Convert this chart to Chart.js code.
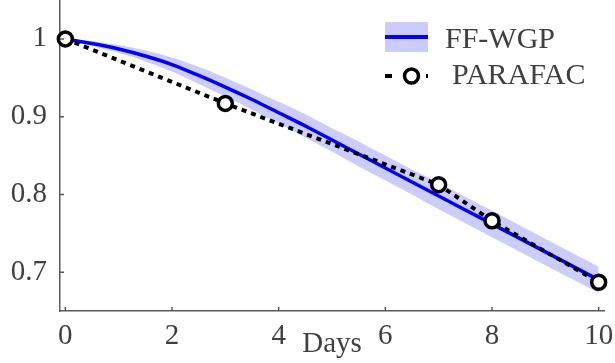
<!DOCTYPE html>
<html>
<head>
<meta charset="utf-8">
<script src="https://cdn.jsdelivr.net/npm/chart.js@4.4.1/dist/chart.umd.min.js"></script>
<style>
 html, body { margin: 0; padding: 0; background: #fff; }
 #wrap { width: 615px; height: 363px; }
</style>
</head>
<body>
<div id="wrap"><canvas id="chart" width="615" height="363"></canvas></div>
<script>
// FF-WGP mean and band
const days = [0, 0.5, 1, 1.5, 2, 2.5, 3, 3.5, 4, 4.5, 5, 5.5, 6, 6.5, 7, 7.5, 8, 8.5, 9, 9.5, 10];
const wgpMean  = [1.000, 0.994, 0.987, 0.978, 0.967, 0.953, 0.938, 0.922, 0.905, 0.888, 0.870, 0.852, 0.834, 0.816, 0.798, 0.780, 0.762, 0.744, 0.726, 0.708, 0.690];
const wgpUpper = [1.000, 0.997, 0.992, 0.985, 0.976, 0.964, 0.950, 0.935, 0.919, 0.903, 0.885, 0.868, 0.850, 0.832, 0.815, 0.797, 0.779, 0.761, 0.743, 0.725, 0.707];
const wgpLower = [1.000, 0.991, 0.982, 0.971, 0.958, 0.942, 0.926, 0.909, 0.891, 0.873, 0.855, 0.836, 0.818, 0.800, 0.781, 0.763, 0.745, 0.727, 0.709, 0.691, 0.673];

// PARAFAC points
const parafacDays = [0, 3, 7, 8, 10];
const parafacVals = [1.000, 0.917, 0.8125, 0.766, 0.687];

const xTicks = [0, 2, 4, 6, 8, 10];
const yTicks = [0.7, 0.8, 0.9, 1];

const serif = "'Liberation Serif', 'DejaVu Serif', serif";
const axisGray = '#5a5a5a';
const textGray = '#404040';
const bandFill = 'rgba(0, 0, 255, 0.2)';

const toXY = (xs, ys) => xs.map((x, i) => ({ x: x, y: ys[i] }));

// inward tick marks, like the original plot
const innerTicks = {
 id: 'innerTicks',
 afterDraw(chart) {
  const ctx = chart.ctx;
  const x = chart.scales.x, y = chart.scales.y;
  const len = 4;
  ctx.save();
  ctx.strokeStyle = axisGray;
  ctx.lineWidth = 1.5;
  ctx.beginPath();
  xTicks.forEach(v => {
   const px = x.getPixelForValue(v);
   ctx.moveTo(px, y.bottom);
   ctx.lineTo(px, y.bottom - len);
  });
  yTicks.forEach(v => {
   const py = y.getPixelForValue(v);
   ctx.moveTo(x.left, py);
   ctx.lineTo(x.left + len, py);
  });
  ctx.stroke();
  ctx.restore();
 }
};

// legend sits inside the axes, top right
const insideLegend = {
 id: 'insideLegend',
 afterDraw(chart) {
  const ctx = chart.ctx;
  ctx.save();
  // FF-WGP: band swatch with line
  ctx.fillStyle = bandFill;
  ctx.fillRect(385, 22, 43, 30);
  ctx.strokeStyle = '#0000ff';
  ctx.lineWidth = 4;
  ctx.beginPath();
  ctx.moveTo(385, 37);
  ctx.lineTo(428, 37);
  ctx.stroke();

  // PARAFAC: dashes and circle
  ctx.strokeStyle = '#000';
  ctx.lineWidth = 4;
  ctx.beginPath();
  ctx.moveTo(385, 76);
  ctx.lineTo(392, 76);
  ctx.moveTo(426, 76);
  ctx.lineTo(428, 76);
  ctx.stroke();
  ctx.beginPath();
  ctx.arc(411.5, 76, 7, 0, Math.PI * 2);
  ctx.fillStyle = '#fff';
  ctx.fill();
  ctx.lineWidth = 3.5;
  ctx.stroke();

  ctx.fillStyle = textGray;
  ctx.font = '30px ' + serif;
  ctx.textBaseline = 'middle';
  ctx.textAlign = 'left';
  ctx.fillText('FF-WGP', 445, 40);
  ctx.fillText('PARAFAC', 452, 76);
  ctx.restore();
 }
};

const ctx = document.getElementById('chart').getContext('2d');
new Chart(ctx, {
 type: 'line',
 data: {
  datasets: [
   {
    label: 'PARAFAC',
    data: toXY(parafacDays, parafacVals),
    borderColor: '#000',
    borderWidth: 4,
    borderDash: [5, 5],
    pointRadius: 7,
    pointBorderWidth: 3.5,
    pointBackgroundColor: '#fff',
    pointBorderColor: '#000',
    tension: 0,
    clip: false,
    order: 0
   },
   {
    label: 'FF-WGP',
    data: toXY(days, wgpMean),
    borderColor: '#0000ff',
    borderWidth: 3.5,
    pointRadius: 0,
    cubicInterpolationMode: 'monotone',
    order: 1
   },
   {
    label: 'upper',
    data: toXY(days, wgpUpper),
    borderWidth: 0,
    pointRadius: 0,
    backgroundColor: bandFill,
    fill: '+1',
    cubicInterpolationMode: 'monotone',
    order: 2
   },
   {
    label: 'lower',
    data: toXY(days, wgpLower),
    borderWidth: 0,
    pointRadius: 0,
    fill: false,
    cubicInterpolationMode: 'monotone',
    order: 2
   }
  ]
 },
 options: {
  responsive: false,
  animation: false,
  devicePixelRatio: 1,
  layout: { autoPadding: false, padding: { left: 0, right: 11, top: 0, bottom: 0 } },
  plugins: {
   legend: { display: false },
   tooltip: { enabled: false }
  },
  scales: {
   x: {
    type: 'linear',
    min: -0.1,
    max: 10.1,
    afterBuildTicks: axis => { axis.ticks = xTicks.map(v => ({ value: v })); },
    afterFit: axis => {
     axis.height = 52;
     axis.paddingLeft = 0;
     axis.paddingRight = 0;
    },
    grid: { display: false, drawTicks: false },
    border: { display: true, color: axisGray, width: 1.5 },
    ticks: {
     padding: 8,
     color: textGray,
     font: { family: serif, size: 29 },
     maxRotation: 0,
     callback: v => String(v)
    },
    title: {
     display: true,
     text: 'Days',
     color: textGray,
     font: { family: serif, size: 29 },
     padding: { top: 0, bottom: 1 }
    }
   },
   y: {
    min: 0.65,
    max: 1.05,
    afterBuildTicks: axis => { axis.ticks = yTicks.map(v => ({ value: v })); },
    afterFit: axis => {
     axis.width = 60;
     axis.paddingTop = 0;
     axis.paddingBottom = 0;
    },
    grid: { display: false, drawTicks: false },
    border: { display: true, color: axisGray, width: 1.5 },
    ticks: {
     padding: 13,
     color: textGray,
     font: { family: serif, size: 29 },
     callback: v => String(v)
    }
   }
  }
 },
 plugins: [innerTicks, insideLegend]
});
</script>
</body>
</html>
